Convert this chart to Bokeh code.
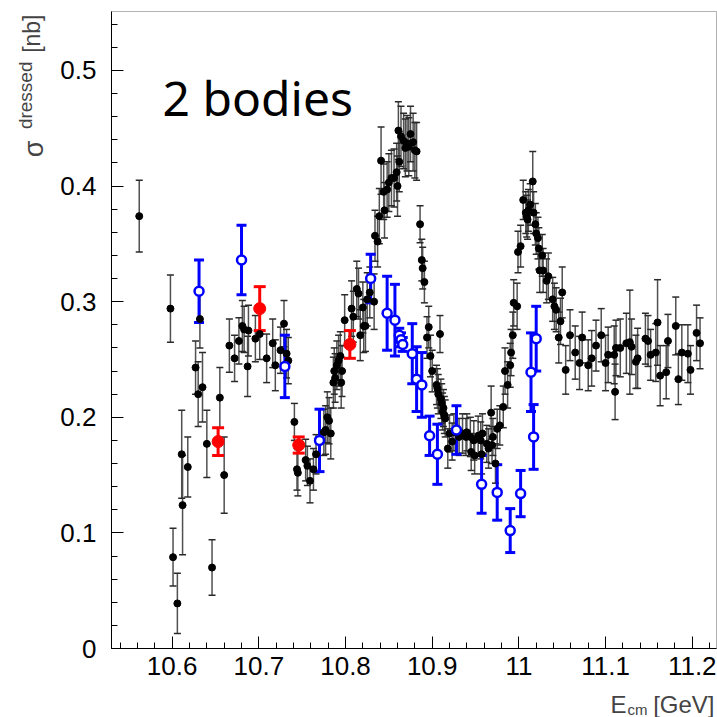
import math
from bokeh.plotting import figure
from bokeh.models import (ColumnDataSource, Whisker, TeeHead, Label, FixedTicker, BoxAnnotation)
from bokeh.embed import file_html
from bokeh.resources import INLINE

# ---------------- data ----------------
black_x = [10.562, 10.598, 10.601, 10.606, 10.611, 10.612, 10.618, 10.627, 10.630, 10.632,
           10.635, 10.640, 10.646, 10.655, 10.660, 10.666, 10.672, 10.677, 10.681, 10.683,
           10.687, 10.688, 10.696, 10.701, 10.709, 10.716, 10.719, 10.725, 10.729, 10.732,
           10.734, 10.741, 10.744, 10.745, 10.754, 10.756, 10.759, 10.763, 10.766, 10.775,
           10.777, 10.779, 10.781, 10.783, 10.786, 10.787, 10.788, 10.790, 10.792, 10.794,
           10.795, 10.796, 10.799, 10.807, 10.809, 10.813, 10.815, 10.817, 10.820, 10.821,
           10.823, 10.825, 10.828, 10.833, 10.834, 10.837, 10.839, 10.841, 10.844, 10.845,
           10.848, 10.850, 10.853, 10.856, 10.859, 10.860, 10.861, 10.862, 10.864, 10.867,
           10.869, 10.871, 10.873, 10.875, 10.878, 10.880, 10.882, 10.886, 10.888, 10.889,
           10.891, 10.894, 10.896, 10.898, 10.900, 10.905, 10.906, 10.907, 10.909, 10.910,
           10.911, 10.912, 10.913, 10.914, 10.915, 10.918, 10.920, 10.923, 10.925, 10.931,
           10.935, 10.939, 10.940, 10.944, 10.945, 10.948, 10.949, 10.953, 10.956, 10.957,
           10.958, 10.963, 10.965, 10.968, 10.969, 10.970, 10.973, 10.975, 10.978, 10.982,
           10.984, 10.987, 10.990, 10.991, 10.993, 10.994, 10.998, 10.999, 11.002, 11.005,
           11.008, 11.009, 11.010, 11.011, 11.013, 11.016, 11.017, 11.019, 11.020, 11.022,
           11.023, 11.024, 11.027, 11.028, 11.032, 11.034, 11.039, 11.041, 11.043, 11.046,
           11.048, 11.050, 11.054, 11.059, 11.065, 11.070, 11.073, 11.080, 11.084, 11.089,
           11.095, 11.100, 11.103, 11.110, 11.111, 11.112, 11.117, 11.124, 11.128, 11.130,
           11.135, 11.137, 11.146, 11.149, 11.152, 11.158, 11.160, 11.163, 11.170, 11.172,
           11.181, 11.184, 11.188, 11.195, 11.198, 11.205, 11.209]
black_y = [0.374, 0.294, 0.079, 0.039, 0.168, 0.124, 0.157, 0.243, 0.220, 0.285,
           0.226, 0.177, 0.070, 0.217, 0.150, 0.262, 0.251, 0.266, 0.279, 0.276,
           0.244, 0.275, 0.268, 0.272, 0.251, 0.264, 0.245, 0.258, 0.281, 0.255,
           0.249, 0.196, 0.155, 0.152, 0.163, 0.158, 0.145, 0.155, 0.168, 0.187,
           0.189, 0.200, 0.197, 0.186, 0.230, 0.240, 0.234, 0.245, 0.249, 0.253,
           0.230, 0.240, 0.284, 0.294, 0.287, 0.311, 0.307, 0.271, 0.295, 0.279,
           0.279, 0.302, 0.308, 0.300, 0.357, 0.352, 0.374, 0.422, 0.395, 0.379,
           0.397, 0.403, 0.407, 0.407, 0.412, 0.400, 0.448, 0.421, 0.443, 0.439,
           0.433, 0.437, 0.434, 0.445, 0.438, 0.431, 0.430, 0.367, 0.336, 0.329,
           0.317, 0.269, 0.278, 0.253, 0.240, 0.228, 0.225, 0.220, 0.272, 0.216,
           0.212, 0.205, 0.208, 0.202, 0.199, 0.173, 0.186, 0.179, 0.187, 0.183,
           0.186, 0.183, 0.187, 0.183, 0.170, 0.180, 0.167, 0.184, 0.180, 0.168,
           0.186, 0.177, 0.173, 0.204, 0.176, 0.183, 0.160, 0.190, 0.193, 0.209,
           0.240, 0.228, 0.245, 0.256, 0.271, 0.299, 0.296, 0.343, 0.348, 0.388,
           0.377, 0.374, 0.371, 0.379, 0.384, 0.404, 0.377, 0.367, 0.359, 0.355,
           0.346, 0.327, 0.340, 0.327, 0.318, 0.322, 0.302, 0.296, 0.293, 0.269,
           0.283, 0.308, 0.241, 0.271, 0.256, 0.247, 0.269, 0.245, 0.251, 0.262,
           0.271, 0.247, 0.254, 0.254, 0.222, 0.260, 0.260, 0.264, 0.265, 0.261,
           0.248, 0.251, 0.268, 0.266, 0.254, 0.256, 0.282, 0.236, 0.239, 0.266,
           0.279, 0.233, 0.256, 0.255, 0.241, 0.273, 0.264]
black_err = [0.031, 0.029, 0.025, 0.026, 0.038, 0.043, 0.026, 0.023, 0.028, 0.025,
             0.030, 0.029, 0.024, 0.026, 0.033, 0.023, 0.020, 0.020, 0.022, 0.020,
             0.026, 0.022, 0.020, 0.022, 0.021, 0.021, 0.022, 0.020, 0.020, 0.021,
             0.020, 0.016, 0.018, 0.020, 0.018, 0.017, 0.019, 0.018, 0.017, 0.020,
             0.021, 0.022, 0.020, 0.022, 0.022, 0.020, 0.021, 0.021, 0.022, 0.021,
             0.022, 0.022, 0.022, 0.024, 0.022, 0.024, 0.022, 0.022, 0.022, 0.023,
             0.022, 0.023, 0.022, 0.024, 0.022, 0.022, 0.024, 0.029, 0.024, 0.024,
             0.024, 0.025, 0.024, 0.025, 0.025, 0.026, 0.025, 0.026, 0.026, 0.024,
             0.025, 0.024, 0.025, 0.024, 0.025, 0.024, 0.025, 0.016, 0.018, 0.018,
             0.018, 0.018, 0.018, 0.018, 0.018, 0.017, 0.017, 0.017, 0.016, 0.017,
             0.017, 0.016, 0.016, 0.016, 0.016, 0.017, 0.016, 0.016, 0.016, 0.016,
             0.017, 0.016, 0.016, 0.017, 0.016, 0.017, 0.016, 0.017, 0.016, 0.017,
             0.017, 0.016, 0.017, 0.023, 0.016, 0.016, 0.017, 0.017, 0.017, 0.018,
             0.020, 0.020, 0.019, 0.020, 0.020, 0.020, 0.020, 0.018, 0.018, 0.017,
             0.018, 0.018, 0.017, 0.018, 0.018, 0.026, 0.018, 0.018, 0.018, 0.018,
             0.018, 0.019, 0.018, 0.019, 0.019, 0.020, 0.019, 0.020, 0.019, 0.022,
             0.020, 0.022, 0.021, 0.022, 0.023, 0.023, 0.022, 0.022, 0.024, 0.022,
             0.023, 0.024, 0.024, 0.025, 0.024, 0.024, 0.025, 0.026, 0.045, 0.024,
             0.023, 0.026, 0.022, 0.022, 0.022, 0.025, 0.037, 0.026, 0.023, 0.023,
             0.025, 0.022, 0.024, 0.025, 0.021, 0.024, 0.022]

blue_x = [10.631, 10.680, 10.730, 10.770, 10.829, 10.848, 10.857, 10.862, 10.864, 10.866,
          10.877, 10.882, 10.888, 10.897, 10.906, 10.928, 10.957, 10.975, 10.990, 11.002,
          11.014, 11.017, 11.020]
blue_y = [0.309, 0.336, 0.244, 0.180, 0.320, 0.290, 0.284, 0.271, 0.267, 0.263,
          0.255, 0.233, 0.228, 0.184, 0.168, 0.189, 0.142, 0.135, 0.102, 0.134,
          0.239, 0.183, 0.268]
blue_err = [0.027, 0.030, 0.027, 0.027, 0.021, 0.032, 0.031, 0.006, 0.006, 0.006,
            0.026, 0.028, 0.028, 0.017, 0.026, 0.021, 0.025, 0.024, 0.019, 0.020,
            0.034, 0.028, 0.028]

red_x = [10.653, 10.701, 10.746, 10.805]
red_y = [0.179, 0.294, 0.176, 0.263]
red_err = [0.012, 0.019, 0.007, 0.012]

x_ticks = [10.6, 10.7, 10.8, 10.9, 11.0, 11.1, 11.2]
x_tick_labels = ["10.6", "10.7", "10.8", "10.9", "11", "11.1", "11.2"]
y_ticks = [0.0, 0.1, 0.2, 0.3, 0.4, 0.5]
y_tick_labels = ["0", "0.1", "0.2", "0.3", "0.4", "0.5"]

title_text = "2 bodies"
x_label_main, x_label_sub, x_label_unit = "E", "cm", "[GeV]"
y_label_main, y_label_sup, y_label_unit = "\u03c3", "dressed", "[nb]"

# ---------------- geometry ----------------
X0, X1 = 10.530, 11.228          # axis box range
Y0, Y1 = 0.0, 0.551
W, H = 717, 717
BL, BR, BT, BB = 111, 1, 11, 69  # box position on the canvas (px)
FW, FH = W - BL - BR, H - BT - BB
SX = FW / (X1 - X0)
SY = FH / (Y1 - Y0)


def px2x(px):
    return X0 + (px - BL) / SX


def py2y(py):
    return Y0 + (BT + FH - py) / SY


p = figure(width=W, height=H,
           x_range=(px2x(0), px2x(W)), y_range=(py2y(H), py2y(0)),
           output_backend="svg", toolbar_location=None, title=None,
           min_border_left=0, min_border_right=0, min_border_top=0, min_border_bottom=0)
p.xgrid.visible = False
p.ygrid.visible = False
p.outline_line_color = None
p.background_fill_color = "white"
p.border_fill_color = "white"

x_minor = [round(10.54 + 0.02 * i, 2) for i in range(35)]
y_minor = [round(0.02 * i, 2) for i in range(28)]
p.xaxis.ticker = FixedTicker(ticks=x_ticks, minor_ticks=x_minor)
p.yaxis.ticker = FixedTicker(ticks=y_ticks, minor_ticks=y_minor)
p.xaxis.major_label_overrides = {t: l for t, l in zip(x_ticks, x_tick_labels)}
p.yaxis.major_label_overrides = {t: l for t, l in zip(y_ticks, y_tick_labels)}
p.xaxis.fixed_location = Y0
p.yaxis.fixed_location = X0
p.xaxis.bounds = (X0, X1)
p.yaxis.bounds = (Y0, Y1)

for ax in (p.xaxis, p.yaxis):
    ax.major_tick_in = 12
    ax.major_tick_out = 0
    ax.minor_tick_in = 6
    ax.minor_tick_out = 0
    ax.axis_line_color = "black"
    ax.major_tick_line_color = "black"
    ax.minor_tick_line_color = "black"
    ax.major_label_text_font = "Liberation Sans"
    ax.major_label_text_font_size = "26px"
    ax.major_label_text_color = "black"
p.xaxis.major_label_standoff = 8
p.yaxis.major_label_standoff = 15

# frame box
p.add_layout(BoxAnnotation(left=X0, right=X1, bottom=Y0, top=Y1, fill_alpha=0,
                           fill_color=None, line_color="black", line_width=1))

# ---------------- error bars + markers ----------------
def add_series(xs, ys, es, bar_color, cap_color, bar_w, cap_size):
    src = ColumnDataSource(dict(x=xs, y=ys,
                                lo=[y - e for y, e in zip(ys, es)],
                                hi=[y + e for y, e in zip(ys, es)]))
    w = Whisker(source=src, base="x", upper="hi", lower="lo",
                line_color=bar_color, line_width=bar_w,
                upper_head=TeeHead(size=cap_size, line_color=cap_color, line_width=bar_w),
                lower_head=TeeHead(size=cap_size, line_color=cap_color, line_width=bar_w))
    p.add_layout(w)
    return src


src_b = add_series(black_x, black_y, black_err, "#505050", "#2a2a2a", 1.5, 7)
p.scatter("x", "y", source=src_b, size=7, color="black")

src_bl = add_series(blue_x, blue_y, blue_err, "#0000ff", "#0000ff", 3, 10)
p.scatter("x", "y", source=src_bl, size=9, line_color="#0000ff", line_width=2.5,
          fill_color="white")

src_r = add_series(red_x, red_y, red_err, "#ff0000", "#ff0000", 3, 12)
p.scatter("x", "y", source=src_r, size=12, color="#ff0000")

# ---------------- texts ----------------
p.add_layout(Label(x=px2x(162), y=py2y(97), text=title_text, text_font="Noto Sans",
                   text_font_size="48px", text_color="black",
                   text_align="left", text_baseline="alphabetic"))

# x-axis title at lower right
p.add_layout(Label(x=px2x(714), y=py2y(704), text=x_label_unit, text_font="Liberation Sans",
                   text_font_size="24px", text_align="right", text_baseline="alphabetic"))
p.add_layout(Label(x=px2x(627), y=py2y(709), text=x_label_sub, text_font="Liberation Sans",
                   text_font_size="15px", text_align="left", text_baseline="alphabetic"))
p.add_layout(Label(x=px2x(610), y=py2y(704), text=x_label_main, text_font="Liberation Sans",
                   text_font_size="24px", text_align="left", text_baseline="alphabetic"))

# y-axis title, rotated, at upper left
ang = math.pi / 2
p.add_layout(Label(x=px2x(31), y=py2y(14), text=y_label_unit, text_font="Liberation Sans",
                   text_font_size="23px", angle=ang, text_align="right",
                   text_baseline="middle"))
p.add_layout(Label(x=px2x(25), y=py2y(61), text=y_label_sup, text_font="Liberation Sans",
                   text_font_size="19px", angle=ang, text_align="right",
                   text_baseline="middle"))
p.add_layout(Label(x=px2x(33), y=py2y(140), text=y_label_main, text_font="Liberation Sans",
                   text_font_size="27px", angle=ang, text_align="right",
                   text_baseline="middle"))

open("out.html", "w").write(file_html(p, INLINE))
